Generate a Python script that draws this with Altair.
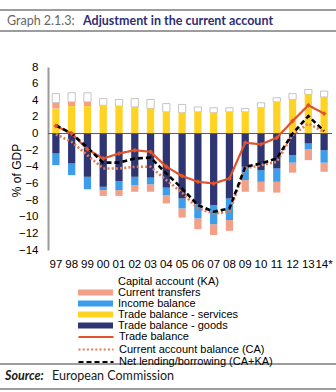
import altair as alt
import pandas as pd

years = ["97", "98", "99", "00", "01", "02", "03", "04", "05", "06",
         "07", "08", "09", "10", "11", "12", "13", "14*"]

capital = [1.1, 1.1, 1.1, 0.8, 0.8, 1.0, 1.1, 1.0, 1.0, 0.6, 0.6, 0.5, 0.4, 0.6, 0.5, 0.7, 0.6, 0.7]
transfers = [0.7, 0.5, 0.5, -0.7, -0.7, -0.8, -0.9, -1.0, -1.1, -1.3, -1.3, -1.3, -1.4, -1.2, -1.3, -1.2, -1.3, -1.1]
income = [-1.4, -1.4, -1.5, -0.4, -1.1, -1.0, -0.8, -0.9, -1.2, -1.7, -2.3, -2.6, -1.6, -1.4, -1.6, -0.9, -0.7, -1.5]
services = [3.0, 3.3, 3.3, 3.4, 3.3, 3.2, 3.0, 2.6, 2.5, 2.6, 2.5, 2.6, 2.6, 3.1, 3.8, 4.1, 4.7, 4.4]
goods = [-2.4, -3.6, -5.2, -6.4, -5.7, -5.2, -5.3, -6.5, -7.8, -8.5, -8.6, -7.8, -4.0, -4.4, -4.2, -2.6, -1.2, -2.0]

trade_balance = [0.9, 0.0, -1.9, -3.0, -2.4, -2.0, -2.2, -4.0, -5.1, -5.8, -6.0, -5.4, -1.1, -1.3, -0.5, 1.5, 3.4, 2.4]
current_account = [-0.1, -1.0, -2.6, -4.2, -4.2, -4.0, -4.0, -5.6, -7.1, -9.0, -9.6, -9.4, -4.2, -3.8, -3.4, -0.2, 1.2, 0.2]
net_lending = [1.0, 0.0, -1.7, -3.5, -3.5, -3.0, -2.9, -4.8, -6.6, -8.6, -9.4, -9.0, -4.0, -3.6, -3.0, 0.0, 2.1, 0.3]

y_ticks = list(range(-14, 9, 2))

NB = "\u00a0"
comp_names = ["Capital account (KA)", "Current transfers", "Income balance",
              NB * 3 + "Trade balance - services", NB * 3 + "Trade balance - goods"]
comp_colors = ["#FFFFFF", "#F3A088", "#3C9DEB", "#FFD324", "#2E3572"]
comp_values = [capital, transfers, income, services, goods]
comp_order = [4, 3, 2, 0, 1]

line_names = ["Trade balance", "Current account balance (CA)", "Net lending/borrowing (CA+KA)"]
line_colors = ["#E0532B", "#E47A57", "#000000"]
line_dashes = [[1, 0], [2, 2.2], [5, 3]]
line_values = [trade_balance, current_account, net_lending]

rows = []
for name, vals, o in zip(comp_names, comp_values, comp_order):
    for y, v in zip(years, vals):
        rows.append({"year": y, "component": name, "value": v, "ord": o})
bar_df = pd.DataFrame(rows)

lrows = []
for name, vals in zip(line_names, line_values):
    for y, v in zip(years, vals):
        lrows.append({"year": y, "series": name, "value": v})
line_df = pd.DataFrame(lrows)

FONT = "Liberation Sans"

x_enc = alt.X("year:N", sort=years,
              scale=alt.Scale(paddingInner=0.54, paddingOuter=0.27),
              axis=alt.Axis(title=None, domain=False, ticks=False, labelAngle=0,
                            labelFont=FONT, labelFontSize=11.5, labelColor="#000",
                            labelPadding=8, labelOverlap=False))
y_scale = alt.Scale(domain=[-14, 8], nice=False, zero=False)
y_axis = alt.Axis(values=y_ticks, grid=False, ticks=False,
                  domainColor="#9a9a9a", domainWidth=2,
                  labelFont=FONT, labelFontSize=11.5, labelColor="#000",
                  labelPadding=10, labelOverlap=False,
                  title="% of GDP", titleFont=FONT,
                  titleFontSize=12, titleFontWeight="normal", titleColor="#000",
                  titleX=-25, titleY=103, titleAngle=-90,
                  titleAlign="center", titleBaseline="bottom")
y_enc = alt.Y("value:Q", stack="zero", scale=y_scale, axis=y_axis)

bar_legend = alt.Legend(title=None, orient="none", legendX=42, legendY=209,
                        symbolType="M-3.5,-0.6H3.5V0.6H-3.5Z", symbolSize=100,
                        symbolStrokeWidth=0, labelOffset=17, labelFont=FONT,
                        labelFontSize=11, labelColor="#000", rowPadding=-1.0, padding=0)

bars = alt.Chart(bar_df).mark_bar(strokeWidth=0.8).encode(
    x=x_enc,
    y=y_enc,
    fill=alt.Fill("component:N", scale=alt.Scale(domain=comp_names, range=comp_colors),
                  legend=bar_legend),
    order=alt.Order("ord:Q"),
    stroke=alt.condition(alt.datum.component == "Capital account (KA)",
                         alt.value("#b5b5b5"), alt.value("transparent")),
)

zero = alt.Chart(pd.DataFrame({"v": [0]})).mark_rule(color="#5b5b4e", strokeWidth=1).encode(
    y=alt.Y("v:Q", scale=y_scale, axis=y_axis)
)

line_legend = alt.Legend(title=None, orient="none", legendX=42, legendY=264,
                         symbolType="M-3.5,0H3.5", symbolSize=100, symbolStrokeWidth=2,
                         labelOffset=17, labelFont=FONT, labelFontSize=11,
                         labelColor="#000", rowPadding=1.5, padding=0)

stroke_enc = alt.Stroke("series:N", scale=alt.Scale(domain=line_names, range=line_colors),
                        legend=line_legend)
dash_enc = alt.StrokeDash("series:N", scale=alt.Scale(domain=line_names, range=line_dashes),
                          legend=line_legend)

line_layers = []
widths = [2.2, 2.6, 2.6]
for name, w in zip(line_names, widths):
    line_layers.append(
        alt.Chart(line_df).transform_filter(alt.datum.series == name)
        .mark_line(strokeWidth=w)
        .encode(x=alt.X("year:N", sort=years),
                y=alt.Y("value:Q", scale=y_scale, axis=y_axis),
                stroke=stroke_enc, strokeDash=dash_enc)
    )

tb_points = alt.Chart(line_df).transform_filter(alt.datum.series == "Trade balance").mark_point(
    filled=True, shape="diamond", size=24, color="#E0532B", opacity=1
).encode(x=alt.X("year:N", sort=years), y=alt.Y("value:Q", scale=y_scale, axis=y_axis))

one = pd.DataFrame({"a": [0]})


def hrule(yv):
    return alt.Chart(one).mark_rule(color="#3a3a3a", strokeWidth=1).encode(
        x=alt.value(-48), x2=alt.value(288), y=alt.value(yv))


def txt(s, xv, yv, **kw):
    return alt.Chart(one).mark_text(align="left", baseline="alphabetic", **kw).encode(
        x=alt.value(xv), y=alt.value(yv), text=alt.value(s))


deco = [
    hrule(-57), hrule(-36), hrule(297), hrule(322),
    txt("Graph 2.1.3:", -41, -42, font="Lato", fontSize=12.5, color="#666666"),
    txt("Adjustment in the current account", 35, -42, font="Lato", fontSize=12.5,
        fontWeight="bold", color="#2E2F72"),
    txt("Source:", -43, 313, font="Lato", fontSize=12.5, fontWeight="bold",
        fontStyle="italic", color="#1a1a1a"),
    txt("European Commission", 4, 313, font="Lato", fontSize=12.5, color="#1a1a1a"),
]

chart = alt.layer(bars, zero, *line_layers, tb_points, *deco).properties(
    width=284, height=183,
    autosize=alt.AutoSizeParams(type="none"),
    padding={"left": 48, "top": 67, "right": 4, "bottom": 142},
).configure_view(stroke=None).configure_axis(labelOverlap=False)

chart.save("out.html", embed_options={"renderer": "svg", "actions": False})
